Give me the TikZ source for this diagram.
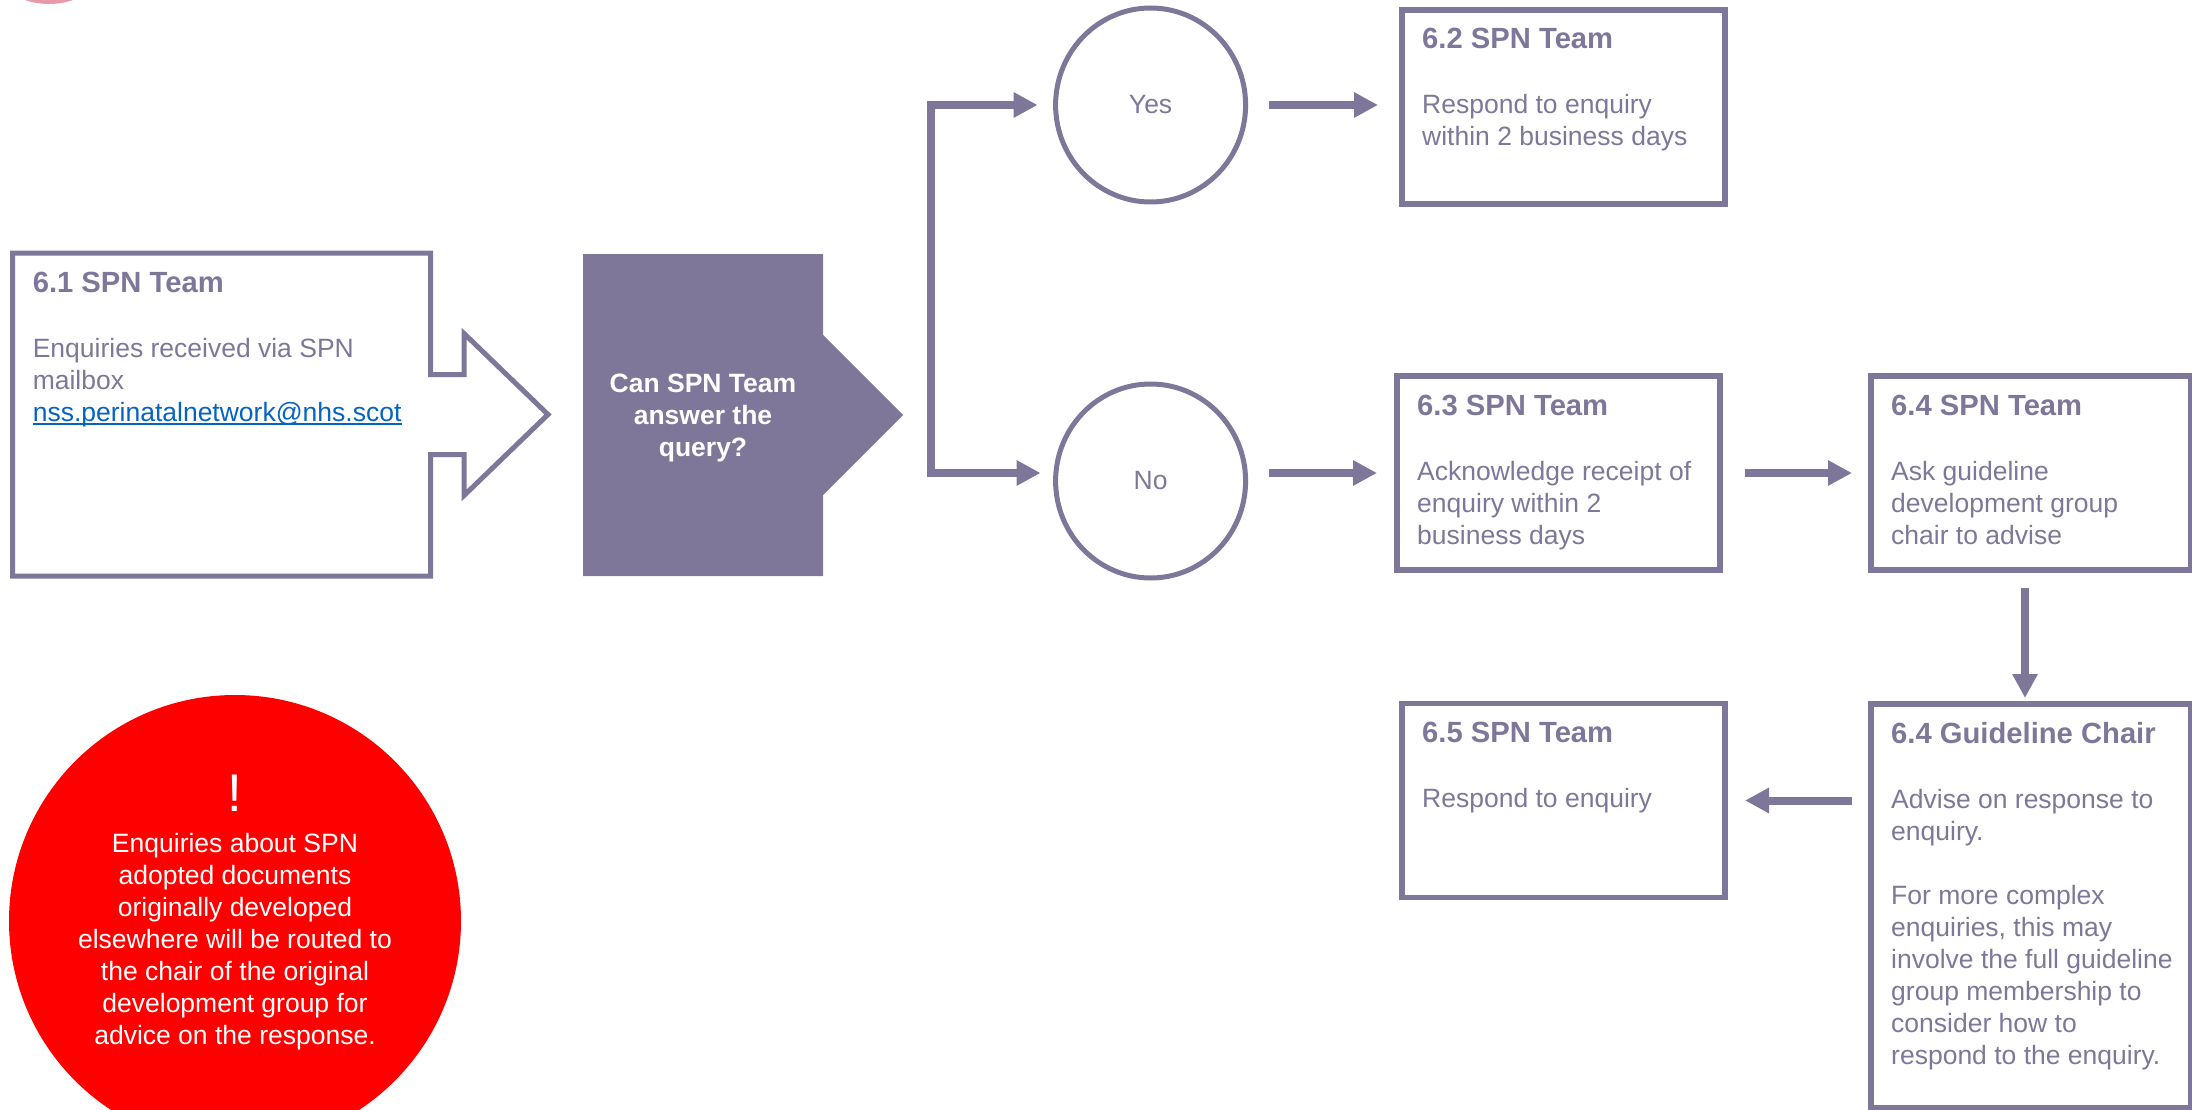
\documentclass[tikz,border=0pt]{standalone}
\usepackage{fontspec}
\setmainfont{Liberation Sans}
\usetikzlibrary{arrows.meta,shapes.geometric}

\definecolor{spn}{RGB}{126,119,153}
\definecolor{maillink}{RGB}{5,99,193}
\definecolor{alertred}{RGB}{255,0,0}
\definecolor{rosetab}{RGB}{232,152,168}

\newcommand{\bodyfont}{\fontsize{26.5pt}{32pt}\selectfont}
\newcommand{\headfont}{\fontsize{29.2pt}{35pt}\selectfont\bfseries}

\begin{document}
\begin{tikzpicture}[x=1pt,y=-1pt,
  stepbox/.style={draw=spn, line width=5.5pt, rectangle, inner sep=0pt, outer sep=0pt,
                  minimum width=323pt, minimum height=194pt},
  answer/.style={draw=spn, line width=5pt, ellipse, inner sep=0pt, outer sep=0pt,
                 minimum width=190pt, minimum height=194pt, text=spn, font=\bodyfont},
  heading/.style={anchor=base west, inner sep=0pt, text=spn, font=\headfont},
  bodytext/.style={anchor=base west, inner sep=0pt, text=spn, font=\bodyfont},
  flow/.style={draw=spn, line width=8pt, line join=miter,
               -{Triangle[length=24pt,width=24pt]}},
]
\useasboundingbox (0,0) rectangle (2192,1110);

% partly hidden marker at the top left
\node[circle, fill=rosetab, minimum size=148pt, inner sep=0pt] (tab) at (49,-70) {};

% 6.1 intake box with its arrow outline
\draw[spn, line width=5pt, line join=miter]
  (12.6,253) -- (430.6,253) -- (430.6,374.5) -- (464,374.5) -- (464,333.5)
  -- (548,414.5) -- (464,495.5) -- (464,454.5) -- (430.6,454.5) -- (430.6,576)
  -- (12.6,576) -- cycle;
\node[heading] (h61) at (32.6,292) {6.1 SPN Team};
\node[bodytext] (t61) at (32.6,357) {\parbox[t]{380pt}{\raggedright
  Enquiries received via SPN\\mailbox}};
\node[bodytext, text=maillink] (mail) at (32.6,421) {nss.perinatalnetwork@nhs.scot};
\draw[maillink, line width=2pt] ([yshift=-3pt]mail.base west) -- ([yshift=-3pt]mail.base east);

% decision
\fill[spn] (583,254) -- (823,254) -- (823,335) -- (903,415) -- (823,495)
  -- (823,576) -- (583,576) -- cycle;
\coordinate (ask) at (903,415);
\node[anchor=base, inner sep=0pt, text=white, font=\bodyfont\bfseries] (asktext) at (703,392.5)
  {\parbox[t]{230pt}{\centering Can SPN Team\\answer the\\query?}};

% answers
\node[answer] (yes) at (1150.6,105) {Yes};
\node[answer] (no) at (1150.6,481) {No};

% step boxes
\node[stepbox] (b62) at (1563.5,107) {};
\node[stepbox] (b63) at (1558.5,473) {};
\node[stepbox, minimum width=320pt] (b64) at (2031,473) {};
\node[stepbox] (b65) at (1563.5,800.5) {};
\node[stepbox, minimum width=320pt, minimum height=404pt] (gc) at (2031,906) {};

\node[heading] (h62) at ([xshift=20pt,yshift=-39pt]b62.north west) {6.2 SPN Team};
\node[bodytext] (t62) at ([xshift=20pt,yshift=-104pt]b62.north west)
  {\parbox[t]{300pt}{\raggedright Respond to enquiry\\within 2 business days}};

\node[heading] (h63) at ([xshift=20pt,yshift=-39pt]b63.north west) {6.3 SPN Team};
\node[bodytext] (t63) at ([xshift=20pt,yshift=-104pt]b63.north west)
  {\parbox[t]{300pt}{\raggedright Acknowledge receipt of\\enquiry within 2\\business days}};

\node[heading] (h64) at ([xshift=20pt,yshift=-39pt]b64.north west) {6.4 SPN Team};
\node[bodytext] (t64) at ([xshift=20pt,yshift=-104pt]b64.north west)
  {\parbox[t]{300pt}{\raggedright Ask guideline\\development group\\chair to advise}};

\node[heading] (h65) at ([xshift=20pt,yshift=-39pt]b65.north west) {6.5 SPN Team};
\node[bodytext] (t65) at ([xshift=20pt,yshift=-104pt]b65.north west)
  {\parbox[t]{300pt}{\raggedright Respond to enquiry}};

\node[heading] (hgc) at ([xshift=20pt,yshift=-39pt]gc.north west) {6.4 Guideline Chair};
\node[bodytext] (tgc) at ([xshift=20pt,yshift=-104pt]gc.north west)
  {\parbox[t]{300pt}{\raggedright Advise on response to\\enquiry.\\[32pt]
   For more complex\\enquiries, this may\\involve the full guideline\\group membership to\\consider how to\\respond to the enquiry.}};

% connectors
\coordinate (fork) at ([xshift=28pt,yshift=125pt]ask);
\draw[flow, shorten >=18pt] (fork) |- (yes.west);
\draw[flow, shorten >=15pt] (fork) |- (no.west |- b63.west);
\draw[flow, shorten <=23pt, shorten >=24pt] (yes.east) -- (yes.east -| b62.west);
\draw[flow, shorten <=23pt, shorten >=20pt] (b63.west -| no.east) -- (b63.west);
\draw[flow, shorten <=25pt, shorten >=19pt] (b63.east) -- (b64.west);
\draw[flow, shorten <=18pt, shorten >=6pt] ([xshift=-6pt]b64.south) -- ([xshift=-6pt]gc.north);
\draw[flow, shorten <=19pt, shorten >=20pt] (gc.west |- b65.east) -- (b65.east);

% note on adopted documents
\node[circle, fill=alertred, minimum size=452pt, inner sep=0pt] (alert) at (235,921) {};
\node[anchor=base, inner sep=0pt, text=white, font=\fontsize{53pt}{60pt}\selectfont] (bang) at (235,811) {!};
\node[anchor=base, inner sep=0pt, text=white, font=\bodyfont] (alerttext) at (235,852.5)
  {\parbox[t]{430pt}{\centering Enquiries about SPN\\adopted documents\\originally developed\\
   elsewhere will be routed to\\the chair of the original\\development group for\\advice on the response.}};
\end{tikzpicture}
\end{document}
